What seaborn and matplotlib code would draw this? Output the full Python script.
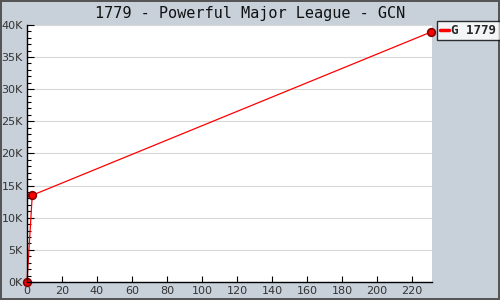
import matplotlib
matplotlib.use("Agg")
import matplotlib.pyplot as plt
import seaborn as sns
import pandas as pd
from matplotlib.ticker import MultipleLocator, FuncFormatter
from matplotlib.lines import Line2D

weeks = [0, 3, 231]
units = [0, 13500, 38900]
series = "G 1779"
title = "1779 - Powerful Major League - GCN"

df = pd.DataFrame({"week": weeks, "units": units})

sns.set_style("white")
bg = "#c8d0da"
fig = plt.figure(figsize=(5, 3), dpi=100, facecolor=bg)
fig.patch.set_edgecolor("#555555")
fig.patch.set_linewidth(1.5)
ax = fig.add_axes([0.054, 0.06, 0.81, 0.857])
ax.set_facecolor("white")

sns.lineplot(data=df, x="week", y="units", ax=ax, color="red", linewidth=0.9,
             marker="o", markersize=5.5, markeredgecolor="#880000", markerfacecolor="red",
             markeredgewidth=1.2, clip_on=False)

ax.set_xlim(0, 231.5)
ax.set_ylim(0, 40000)
ax.xaxis.set_major_locator(MultipleLocator(20))
ax.yaxis.set_major_locator(MultipleLocator(5000))
ax.yaxis.set_minor_locator(MultipleLocator(1000))
ax.yaxis.set_major_formatter(FuncFormatter(lambda v, p: f"{int(v/1000)}K"))
ax.grid(axis="y", which="major", color="#d8d8d8", linewidth=0.8)
ax.set_axisbelow(True)
for s in ["top", "right"]:
    ax.spines[s].set_visible(False)
for s in ["left", "bottom"]:
    ax.spines[s].set_color("black")
    ax.spines[s].set_linewidth(1)
ax.tick_params(axis="both", which="both", direction="in", colors="black",
               labelsize=8, labelcolor="#333333", left=True, bottom=True)
ax.tick_params(axis="y", which="major", length=5, width=0.8, pad=3)
ax.tick_params(axis="y", which="minor", length=3, width=0.8)
ax.tick_params(axis="x", which="major", length=4, width=0.8, pad=3)
ax.set_xlabel("")
ax.set_ylabel("")
for lbl in ax.get_xticklabels() + ax.get_yticklabels():
    lbl.set_fontfamily("DejaVu Sans")

fig.text(0.5, 0.955, title, ha="center", va="center", fontsize=11,
         fontweight="normal", color="#111111", family="DejaVu Sans Mono")

handle = Line2D([0], [0], color="red", linewidth=2.5)
leg = fig.legend([handle], [series], loc="upper left", bbox_to_anchor=(0.874, 0.93),
                 frameon=True, fancybox=False, handlelength=0.7, handletextpad=0.2,
                 borderpad=0.25, borderaxespad=0,
                 prop={"family": "DejaVu Sans Mono", "weight": "bold", "size": 9})
leg.get_frame().set_edgecolor("black")
leg.get_frame().set_linewidth(1)

fig.savefig("out.png", dpi=100, facecolor=bg, edgecolor=fig.patch.get_edgecolor())
